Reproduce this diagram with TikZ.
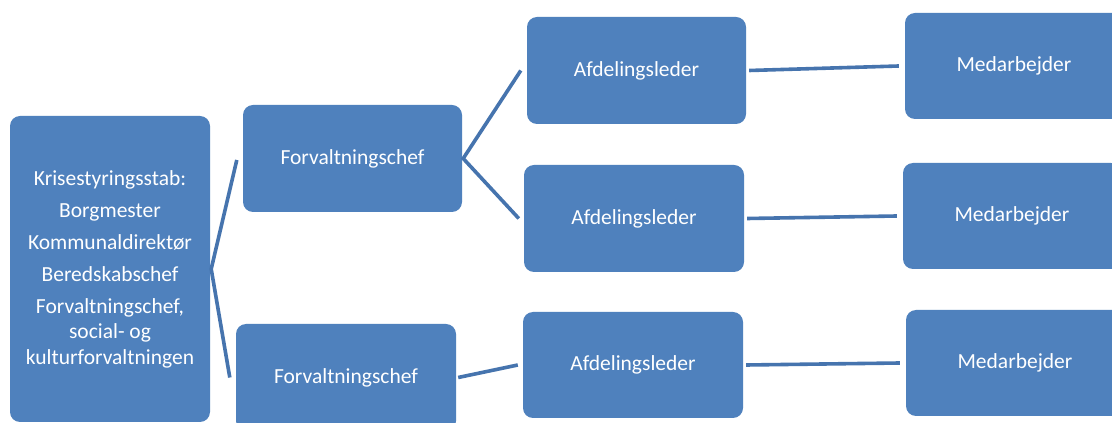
\documentclass[tikz,border=0pt]{standalone}
\usepackage{fontspec}
\setmainfont{Carlito}
\definecolor{boxblue}{HTML}{4F81BD}
\definecolor{lineblue}{HTML}{4674AE}
\begin{document}
\begin{tikzpicture}[x=1pt,y=1pt,
  orgbox/.style={draw=none,fill=boxblue,rounded corners=10pt,text=white,inner sep=0pt,
    font=\fontsize{21.5}{25.5}\selectfont,align=center},
  conn/.style={draw=lineblue,line width=3.6pt,line join=miter}]
\useasboundingbox (0,0) rectangle (1112,423);
\clip (0,0) rectangle (1112,423);
\fill[white] (0,0) rectangle (1112,423);
\node[orgbox,minimum width=200pt,minimum height=306pt] (k) at (110,154)
  {Krisestyringsstab:\\[6.5pt]Borgmester\\[6.5pt]Kommunaldirektør\\[6.5pt]Beredskabschef\\[6.5pt]Forvaltningschef,\\social- og\\kulturforvaltningen};
\node[orgbox,minimum width=219pt,minimum height=107pt] (f1) at (352.5,264.5) {Forvaltningschef};
\node[orgbox,minimum width=220pt,minimum height=107pt] (f2) at (346,45.5) {Forvaltningschef};
\node[orgbox,minimum width=219pt,minimum height=107pt] (a1) at (636.5,352.5) {Afdelingsleder};
\node[orgbox,minimum width=220pt,minimum height=107pt] (a2) at (634,204.5) {Afdelingsleder};
\node[orgbox,minimum width=220pt,minimum height=106pt] (a3) at (633,58) {Afdelingsleder};
\node[orgbox,minimum width=218pt,minimum height=106pt] (m1) at (1014,357) {Medarbejder};
\node[orgbox,minimum width=218pt,minimum height=106pt] (m2) at (1012,207) {Medarbejder};
\node[orgbox,minimum width=218pt,minimum height=106pt] (m3) at (1015,60) {Medarbejder};
\draw[conn] ([xshift=-6pt,yshift=-1.5pt]f1.west) -- ([xshift=1pt]k.east) -- ([xshift=-6pt]f2.west);
\draw[conn] ([xshift=-6pt]a1.west) -- ([xshift=1pt]f1.east) -- ([xshift=-5pt]a2.west);
\draw[conn] ([xshift=2pt]f2.east) -- ([xshift=-5pt]a3.west);
\draw[conn] ([xshift=3pt]a1.east) -- ([xshift=-6pt]m1.west);
\draw[conn] ([xshift=3pt]a2.east) -- ([xshift=-6pt]m2.west);
\draw[conn] ([xshift=3pt]a3.east) -- ([xshift=-6pt]m3.west);
\end{tikzpicture}
\end{document}
